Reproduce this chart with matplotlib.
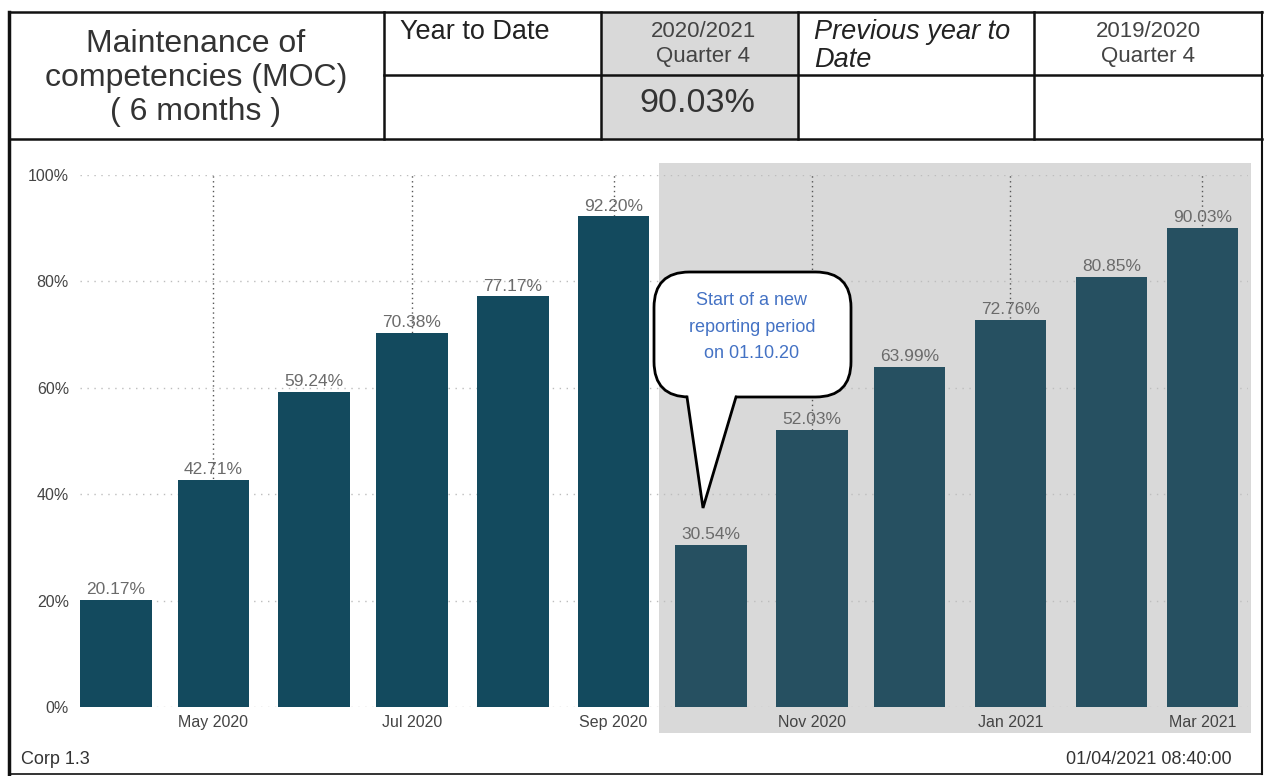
import datetime as dt
import matplotlib
matplotlib.use("Agg")
import matplotlib.pyplot as plt
import matplotlib.dates as mdates
from matplotlib.patches import Rectangle, FancyBboxPatch, Polygon
from matplotlib.lines import Line2D

plt.rcParams['font.family'] = ['Liberation Sans', 'DejaVu Sans']

# ---------------- data ----------------
months = ["2020-04", "2020-05", "2020-06", "2020-07", "2020-08", "2020-09",
          "2020-10", "2020-11", "2020-12", "2021-01", "2021-02", "2021-03"]
values = [20.17, 42.71, 59.24, 70.38, 77.17, 92.20,
          30.54, 52.03, 63.99, 72.76, 80.85, 90.03]
period = ["old"] * 6 + ["new"] * 6
tick_months = ["2020-05", "2020-07", "2020-09", "2020-11", "2021-01", "2021-03"]
tick_labels = ["May 2020", "Jul 2020", "Sep 2020", "Nov 2020", "Jan 2021", "Mar 2021"]
y_ticks = [0, 20, 40, 60, 80, 100]
y_tick_labels = ["0%", "20%", "40%", "60%", "80%", "100%"]

title_text = "Maintenance of\ncompetencies (MOC)\n( 6 months )"
ytd_label = "Year to Date"
ytd_period = "2020/2021\nQuarter 4"
ytd_value = "90.03%"
prev_label = "Previous year to\nDate"
prev_period = "2019/2020\nQuarter 4"
callout_text = "Start of a new\nreporting period\non 01.10.20"
footer_left = "Corp 1.3"
footer_right = "01/04/2021 08:40:00"

# ---------------- figure ----------------
W, H = 1264, 776
fig = plt.figure(figsize=(W / 100, H / 100), dpi=100)
fig.patch.set_facecolor("white")


def fx(x):
    return x / W


def fy(y):
    return 1 - y / H


def to_date(s):
    y, m = s.split("-")
    return dt.datetime(int(y), int(m), 1)


dates = [to_date(m) for m in months]
xnum = mdates.date2num(dates)

ax = fig.add_axes([fx(80), fy(707), fx(1248) - fx(80), fy(175) - fy(707)])
ax.set_facecolor("none")
ax.set_xlim(mdates.date2num(dt.datetime(2020, 3, 21)), mdates.date2num(dt.datetime(2021, 3, 15)))
ax.set_ylim(0, 100)

# shaded "new reporting period" region
x0 = mdates.date2num(dt.datetime(2020, 9, 15))
x1 = mdates.date2num(dt.datetime(2021, 3, 16))
ax.add_patch(Rectangle((x0, -4.9), x1 - x0, 102.3 + 4.9, facecolor="#d9d9d9",
                       edgecolor="none", clip_on=False, zorder=0.1))

colors = {"old": "#134a5e", "new": "#265061"}
bar_colors = [colors[p] for p in period]
ax.bar(xnum, values, width=22, color=bar_colors, zorder=2)

for x, v in zip(xnum, values):
    ax.annotate(f"{v:.2f}%", (x, v), xytext=(0, 2), textcoords="offset points",
                ha="center", va="bottom", fontsize=12.5, color="#6b6b6b", zorder=3)

ax.set_axisbelow(True)
ax.set_xticks(mdates.date2num([to_date(m) for m in tick_months]))
ax.set_xticklabels(tick_labels)
ax.set_yticks(y_ticks)
ax.set_yticklabels(y_tick_labels)
ax.tick_params(axis="both", length=0, labelsize=11.5, colors="#444444")
ax.tick_params(axis="x", pad=6)
ax.tick_params(axis="y", pad=8)
ax.grid(axis="y", linestyle=(0, (1, 4)), color="#bdbdbd", linewidth=1)
ax.grid(axis="x", linestyle=(0, (1, 2.5)), color="#555555", linewidth=1)
for s in ax.spines.values():
    s.set_visible(False)

# ---------------- header table ----------------
def hline(y, xa, xb, lw=1.8):
    fig.add_artist(Line2D([fx(xa), fx(xb)], [fy(y), fy(y)], color="#111111", lw=lw))


def vline(x, ya, yb, lw=1.8):
    fig.add_artist(Line2D([fx(x), fx(x)], [fy(ya), fy(yb)], color="#111111", lw=lw))


# gray cell
fig.add_artist(Rectangle((fx(601), fy(139)), fx(798) - fx(601), fy(12) - fy(139),
                         facecolor="#d9d9d9", edgecolor="none", transform=fig.transFigure))
hline(12, 9, 1262)
hline(75, 384, 1262)
hline(139, 9, 1262)
hline(774, 9, 1262, lw=1.2)
vline(9, 12, 774, lw=2.5)
vline(1262, 12, 774, lw=1.5)
for xv in [384, 601, 798, 1034]:
    vline(xv, 12, 139)

fig.text(fx(196), fy(78), title_text, ha="center", va="center", fontsize=23,
         color="#333333", linespacing=1.17)
fig.text(fx(400), fy(32), ytd_label, ha="left", va="center", fontsize=19.5, color="#222222")
fig.text(fx(703), fy(44), ytd_period, ha="center", va="center", fontsize=16,
         color="#444444", linespacing=1.2)
fig.text(fx(697), fy(103), ytd_value, ha="center", va="center", fontsize=24.5, color="#333333")
fig.text(fx(814), fy(46), prev_label, ha="left", va="center", fontsize=19.5,
         style="italic", color="#222222", linespacing=1.06)
fig.text(fx(1148), fy(44), prev_period, ha="center", va="center", fontsize=16,
         color="#444444", linespacing=1.2)

# footer
fig.text(fx(21), fy(759), footer_left, ha="left", va="center", fontsize=13, color="#333333")
fig.text(fx(1232), fy(759), footer_right, ha="right", va="center", fontsize=13, color="#333333")

# ---------------- callout ----------------
bx0, by0, bx1, by1 = 654, 272, 851, 397
box = FancyBboxPatch((fx(bx0), fy(by1)), fx(bx1) - fx(bx0), fy(by0) - fy(by1),
                     boxstyle="round,pad=0,rounding_size=0.028",
                     mutation_aspect=W / H,
                     facecolor="white", edgecolor="black", linewidth=2,
                     transform=fig.transFigure, zorder=5)
fig.add_artist(box)
tail = [(687, 395), (703, 508), (736, 395)]
fig.add_artist(Polygon([(fx(a), fy(b)) for a, b in tail], closed=True, facecolor="white",
                       edgecolor="none", transform=fig.transFigure, zorder=6))
fig.add_artist(Line2D([fx(687), fx(703), fx(736)], [fy(397), fy(508), fy(397)],
                      color="black", lw=2, zorder=7, solid_joinstyle="miter"))
fig.text(fx(752), fy(327), callout_text, ha="center", va="center", fontsize=13,
         color="#4472c4", linespacing=1.7, zorder=8)

fig.savefig("out.png", dpi=100)
